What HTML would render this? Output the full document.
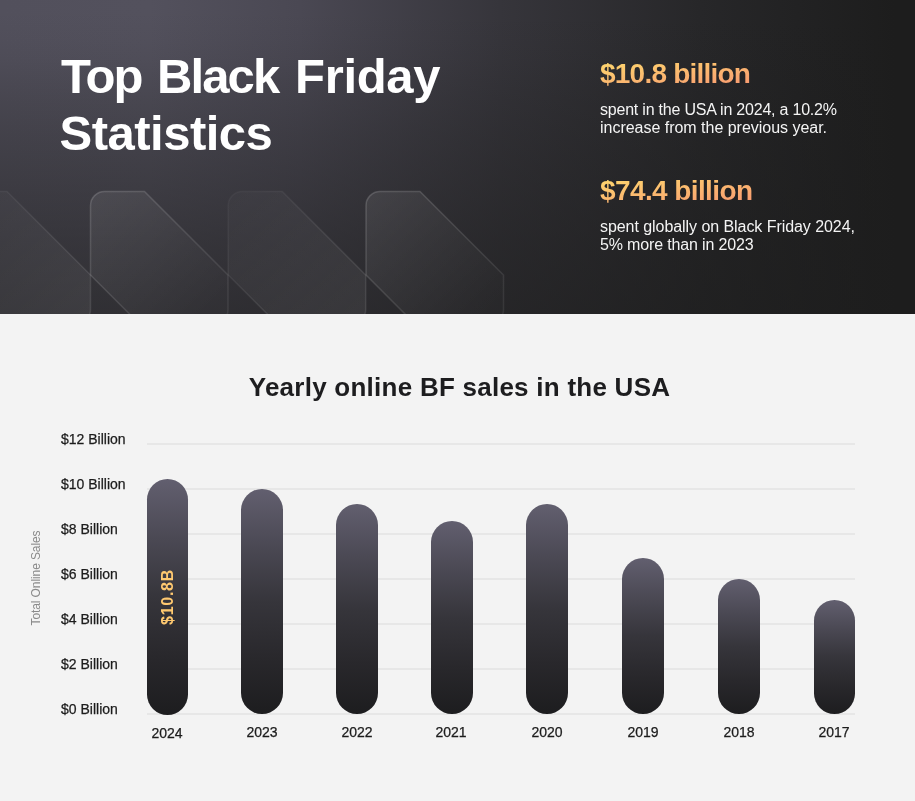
<!DOCTYPE html>
<html lang="en">
<head>
<meta charset="utf-8">
<title>Top Black Friday Statistics</title>
<style>
  html, body { margin: 0; padding: 0; }
  body {
    width: 915px; height: 801px; overflow: hidden; position: relative;
    background: #f3f3f3;
    font-family: "Liberation Sans", sans-serif;
    -webkit-font-smoothing: antialiased;
  }
  #hero {
    position: absolute; left: 0; top: 0; width: 915px; height: 314px; overflow: hidden;
    background:
      linear-gradient(180deg, rgba(29,29,29,0) 0px, rgba(29,29,29,0.008) 20px, rgba(29,29,29,0.035) 40px, rgba(29,29,29,0.08) 60px, rgba(29,29,29,0.14) 80px, rgba(29,29,29,0.2) 100px, rgba(29,29,29,0.29) 135px, rgba(29,29,29,0.37) 170px, rgba(29,29,29,0.52) 240px, rgba(29,29,29,0.645) 314px),
      linear-gradient(90deg, #52505c 0px, #53515d 150px, #4a4853 300px, #36353b 500px, #272729 700px, #1d1d1d 895px, #1d1d1d 915px);
  }
  #hero svg { position: absolute; left: 0; top: 0; }
  h1 {
    margin: 0; position: absolute; left: 0; top: 48px; width: 560px; height: 112px;
    font-size: 49px; line-height: 56px; font-weight: 700; color: #fff;
    white-space: nowrap;
  }
  h1 span { position: absolute; display: block; }
  .stat {
    position: absolute; left: 600px; margin: 0;
    font-size: 28px; line-height: 32px; font-weight: 700; white-space: nowrap;
    background: linear-gradient(172deg, #ffdd6e 0%, #f89371 100%);
    -webkit-background-clip: text; background-clip: text;
    color: transparent; -webkit-text-fill-color: transparent;
  }
  .desc {
    position: absolute; left: 600px; margin: 0; color: #f4f4f4;
    font-size: 16px; line-height: 18px; white-space: nowrap;
  }
  h2 {
    position: absolute; margin: 0; left: 2px; width: 915px; top: 371px; text-align: center;
    font-size: 26px; line-height: 32px; font-weight: 700; color: #1d1d1f; white-space: nowrap; letter-spacing: 0.25px;
  }
  .ylab { position: absolute; left: 61px; font-size: 14px; line-height: 16px; color: #1c1c1c; white-space: nowrap; -webkit-text-stroke: 0.25px #1c1c1c; }
  .grid { position: absolute; left: 147px; width: 708px; height: 2px; background: #e7e7e7; }
  .bar {
    position: absolute; width: 41px; border-radius: 21px;
    background: linear-gradient(180deg, #625f6f 0%, #4b4954 25%, #36353b 50%, #29282c 75%, #1d1d1f 100%);
  }
  .xlab { position: absolute; width: 60px; text-align: center; font-size: 14px; line-height: 16px; color: #1c1c1c; -webkit-text-stroke: 0.25px #1c1c1c; }
  #ytitle, #barlab { position: absolute; width: 0; height: 0; }
  #ytitle { left: 36px; top: 578px; }
  #barlab { left: 167.5px; top: 596.5px; }
  #ytitle span, #barlab span {
    position: absolute; display: block; text-align: center; white-space: nowrap;
    transform: rotate(-90deg);
  }
  #ytitle span {
    left: -60px; top: -10px; width: 120px; height: 20px; line-height: 20px;
    font-size: 12px; color: #8a8a8a; letter-spacing: -0.1px;
  }
  #barlab span {
    left: -40px; top: -10px; width: 80px; height: 20px; line-height: 20px;
    font-size: 16px; font-weight: 700; color: #ffc970; letter-spacing: 0.7px;
  }
</style>
</head>
<body>
<div id="hero">
  <svg width="915" height="314" viewBox="0 0 915 314">
    <defs>
      <linearGradient id="sf" x1="0" y1="0" x2="1" y2="1">
        <stop offset="0" stop-color="#ffffff" stop-opacity="0.082"/>
        <stop offset="0.85" stop-color="#ffffff" stop-opacity="0.012"/>
        <stop offset="1" stop-color="#ffffff" stop-opacity="0.01"/>
      </linearGradient>
      <linearGradient id="ss" x1="0" y1="0" x2="1" y2="1">
        <stop offset="0" stop-color="#ffffff" stop-opacity="0.16"/>
        <stop offset="1" stop-color="#ffffff" stop-opacity="0.07"/>
      </linearGradient>
      <linearGradient id="rf" x1="0" y1="0" x2="1" y2="1">
        <stop offset="0" stop-color="#ffffff" stop-opacity="0.02"/>
        <stop offset="1" stop-color="#ffffff" stop-opacity="0.065"/>
      </linearGradient>
      <linearGradient id="rs" x1="0" y1="0" x2="1" y2="1">
        <stop offset="0" stop-color="#ffffff" stop-opacity="0.03"/>
        <stop offset="0.5" stop-color="#ffffff" stop-opacity="0.08"/>
        <stop offset="1" stop-color="#ffffff" stop-opacity="0.1"/>
      </linearGradient>
    </defs>
    <path transform="translate(-47 191.5)" d="M0 14 A14 14 0 0 1 14 0 H54 L137.5 83.5 V118 A14 14 0 0 1 123.5 132 H48.5 L0 83.5 Z" fill="url(#rf)" stroke="url(#rs)" stroke-width="1.5"/>
    <path transform="translate(90.5 191.5)" d="M0 14 A14 14 0 0 1 14 0 H54 L137.5 83.5 V118 A14 14 0 0 1 123.5 132 H48.5 L0 83.5 Z" fill="url(#sf)" stroke="url(#ss)" stroke-width="1.5"/>
    <path transform="translate(228.2 191.5)" d="M0 14 A14 14 0 0 1 14 0 H54 L137.5 83.5 V118 A14 14 0 0 1 123.5 132 H48.5 L0 83.5 Z" fill="url(#rf)" stroke="url(#rs)" stroke-width="1.5"/>
    <path transform="translate(366 191.5)" d="M0 14 A14 14 0 0 1 14 0 H54 L137.5 83.5 V118 A14 14 0 0 1 123.5 132 H48.5 L0 83.5 Z" fill="url(#sf)" stroke="url(#ss)" stroke-width="1.5"/>
  </svg>
  <h1><span style="left:61px;top:0;letter-spacing:-1.9px">Top </span><span style="left:157px;top:0;letter-spacing:-1.9px">Black </span><span style="left:295px;top:0;letter-spacing:-0.3px">Friday </span><span style="left:59.5px;top:57px;letter-spacing:-0.5px">Statistics</span></h1>
  <p class="stat" style="top:58px;letter-spacing:-0.78px">$10.8 billion</p>
  <p class="desc" style="top:100.7px"><span style="letter-spacing:-0.21px">spent in the USA in 2024, a 10.2%</span><br><span style="letter-spacing:-0.02px">increase from the previous year.</span></p>
  <p class="stat" style="top:175px;letter-spacing:-0.6px">$74.4 billion</p>
  <p class="desc" style="top:217.7px"><span style="letter-spacing:-0.06px">spent globally on Black Friday 2024,</span><br><span style="letter-spacing:-0.15px">5% more than in 2023</span></p>
</div>

<h2>Yearly online BF sales in the USA</h2>

<div class="grid" style="top:443px"></div>
<div class="grid" style="top:488px"></div>
<div class="grid" style="top:533px"></div>
<div class="grid" style="top:578px"></div>
<div class="grid" style="top:623px"></div>
<div class="grid" style="top:668px"></div>
<div class="grid" style="top:713px"></div>

<div class="ylab" style="top:431px">$12 Billion</div>
<div class="ylab" style="top:476px">$10 Billion</div>
<div class="ylab" style="top:521px">$8 Billion</div>
<div class="ylab" style="top:566px">$6 Billion</div>
<div class="ylab" style="top:611px">$4 Billion</div>
<div class="ylab" style="top:656px">$2 Billion</div>
<div class="ylab" style="top:701px">$0 Billion</div>

<div id="ytitle"><span>Total Online Sales</span></div>

<div class="bar" style="left:147px; top:479px; height:236px"></div>
<div class="bar" style="left:241px; top:489px; height:225px; width:42px"></div>
<div class="bar" style="left:336px; top:504px; height:210px; width:42px"></div>
<div class="bar" style="left:431px; top:521px; height:193px; width:42px"></div>
<div class="bar" style="left:526px; top:504px; height:210px; width:42px"></div>
<div class="bar" style="left:622px; top:558px; height:156px; width:42px"></div>
<div class="bar" style="left:718px; top:579px; height:135px; width:42px"></div>
<div class="bar" style="left:814px; top:600px; height:114px"></div>

<div id="barlab"><span>$10.8B</span></div>

<div class="xlab" style="left:137px; top:725px">2024</div>
<div class="xlab" style="left:232px; top:724px">2023</div>
<div class="xlab" style="left:327px; top:724px">2022</div>
<div class="xlab" style="left:421px; top:724px">2021</div>
<div class="xlab" style="left:517px; top:724px">2020</div>
<div class="xlab" style="left:613px; top:724px">2019</div>
<div class="xlab" style="left:709px; top:724px">2018</div>
<div class="xlab" style="left:804px; top:724px">2017</div>
</body>
</html>
